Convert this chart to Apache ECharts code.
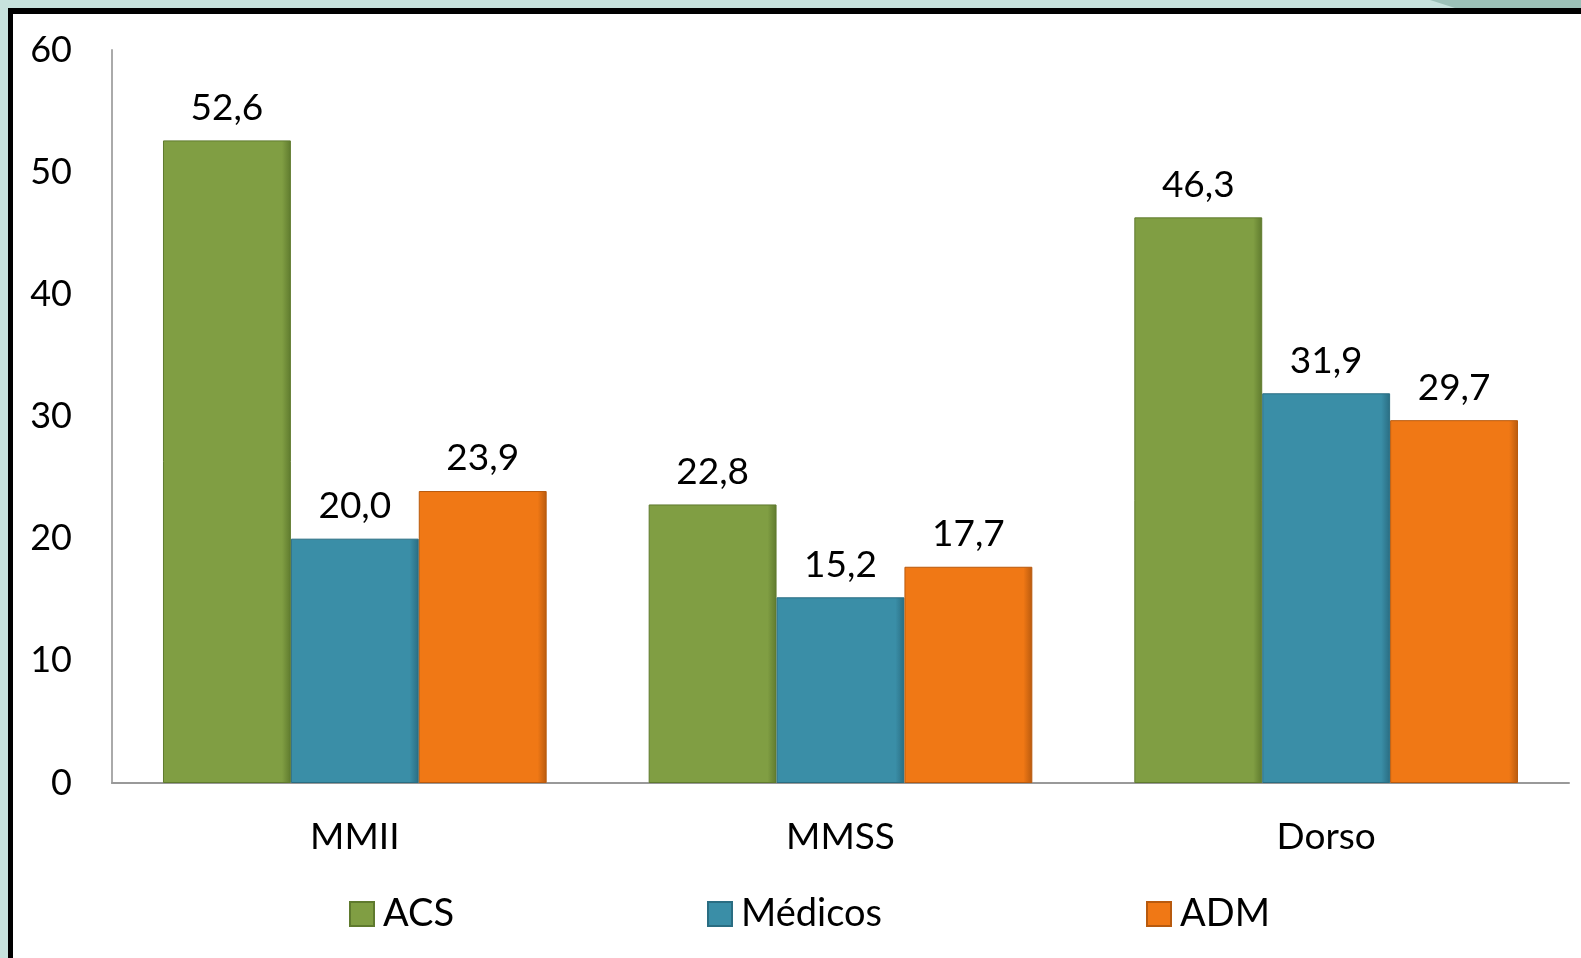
<!DOCTYPE html>
<html>
<head>
<meta charset="utf-8">
<script src="https://cdn.jsdelivr.net/npm/echarts@6/dist/echarts.min.js"></script>
<style>
html,body{margin:0;padding:0;background:#c7e2dd;}
#chart{width:1581px;height:958px;}
</style>
</head>
<body>
<div id="chart"></div>
<script>
const categories = ['MMII', 'MMSS', 'Dorso'];
const seriesNames = ['ACS', 'Médicos', 'ADM'];
const acs = [52.6, 22.8, 46.3];
const medicos = [20.0, 15.2, 31.9];
const adm = [23.9, 17.7, 29.7];
const yTicks = [0, 10, 20, 30, 40, 50, 60];

const colors = ['#809e43', '#3a8ea7', '#f07815'];
const borders = ['#5f7a2e', '#2a6d82', '#b85a0e'];
const seriesData = [acs, medicos, adm];

const FONT = 'Lato';
const chart = echarts.init(document.getElementById('chart'));

function fmt(v){ return v.toFixed(1).replace('.', ','); }

const series = seriesNames.map((name, i) => ({
  name: name,
  type: 'bar',
  data: seriesData[i],
  barGap: '0%',
  barCategoryGap: '21%',
  itemStyle: {
    color: new echarts.graphic.LinearGradient(0, 0, 1, 0, [
      {offset: 0, color: colors[i]},
      {offset: 0.93, color: colors[i]},
      {offset: 1, color: borders[i]}
    ]),
    borderColor: borders[i],
    borderWidth: 1
  },
  label: {
    show: true,
    position: 'top',
    distance: 14,
    formatter: p => fmt(p.value),
    fontFamily: FONT,
    fontSize: 37,
    color: '#000'
  }
}));

const legendLefts = [344, 702, 1141];
const legends = seriesNames.map((n, i) => ({
  data: [n],
  left: legendLefts[i],
  top: 890,
  itemWidth: 24,
  itemHeight: 24,
  itemGap: 0,
  textStyle: {fontFamily: FONT, fontSize: 38, color: '#000', padding: [0,0,0,4]},
  icon: 'rect'
}));

chart.setOption({
  backgroundColor: 'transparent',
  animation: false,
  color: colors,
  graphic: [
    {type: 'rect', shape: {x: 8, y: 8, width: 1600, height: 1000}, style: {fill: '#fff', stroke: '#000', lineWidth: 0}, z: -10, silent: true},
    {type: 'rect', shape: {x: 8, y: 8, width: 1600, height: 6}, style: {fill: '#000'}, z: -9, silent: true},
    {type: 'rect', shape: {x: 8, y: 8, width: 5, height: 1000}, style: {fill: '#000'}, z: -9, silent: true},
    {type: 'polygon', shape: {points: [[1430, 0], [1581, 0], [1581, 8], [1455, 8]]}, style: {fill: '#9cc1b8'}, z: -9, silent: true}
  ],
  grid: {left: 112, right: 12, top: 50, bottom: 175, containLabel: false},
  legend: legends,
  xAxis: {
    type: 'category',
    data: categories,
    axisLine: {show: true, lineStyle: {color: '#999', width: 2}},
    axisTick: {show: false},
    axisLabel: {fontFamily: FONT, fontSize: 37, color: '#000', margin: 36}
  },
  yAxis: {
    type: 'value',
    min: 0,
    max: 60,
    interval: 10,
    axisLine: {show: true, lineStyle: {color: '#aaa', width: 2}},
    axisTick: {show: false},
    splitLine: {show: false},
    axisLabel: {
      fontFamily: FONT, fontSize: 36, color: '#000', margin: 40,
      formatter: v => yTicks.includes(v) ? String(v) : ''
    }
  },
  series: series
});
</script>
</body>
</html>
